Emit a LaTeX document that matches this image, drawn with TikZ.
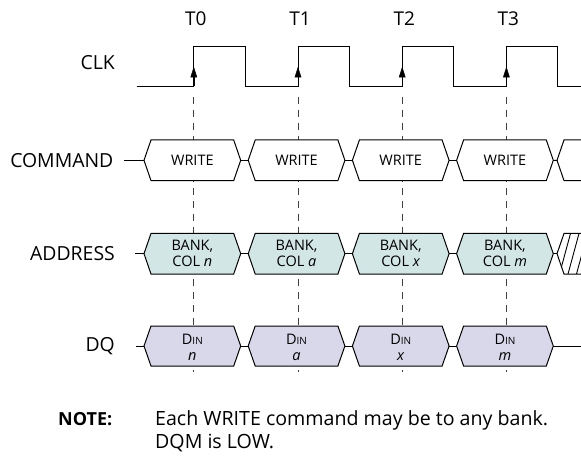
\documentclass[tikz,border=0pt]{standalone}
\usepackage{fontspec}
\setmainfont{Open Sans}
\usepackage{xcolor}
\usepackage{tikz}
\usetikzlibrary{arrows.meta}
\definecolor{addrfill}{RGB}{211,230,230}
\definecolor{dqfill}{RGB}{216,216,234}

\begin{document}
\begin{tikzpicture}[x=1pt,y=-1pt,
  sig/.style={anchor=east, inner sep=0pt, font=\fontsize{19.4}{21}\selectfont},
  tick/.style={inner sep=0pt, font=\fontsize{19}{21}\selectfont},
  bustext/.style={inner sep=0pt, align=center, font=\fontsize{14.5}{16}\selectfont},
  wave/.style={line width=1pt},
  guide/.style={line width=0.9pt, black!75, dash pattern=on 7pt off 6pt},
  cmdbox/.style={line width=1pt, fill=white},
  addrbox/.style={line width=1pt, fill=addrfill},
  dqbox/.style={line width=1pt, fill=dqfill}]
\useasboundingbox (0,0) rectangle (581,457);

% clock edges and labels
\foreach \i in {0,...,3} {
  \node[tick] (t\i) at ({195.8+104.2*\i},19) {T\i};
  \coordinate (edge\i) at ({193.8+104.2*\i},96.7);
  \draw[guide] (edge\i) -- ++(0,275);
}

% CLK
\node[sig] (clk) at (115,63) {CLK};
\draw[wave] (136.5,86.3) \foreach \i in {0,...,3} {
  -- ({193.8+104.2*\i},86.3) -- ++(0,-39.6) -- ++(51.5,0) -- ++(0,39.6)} -- (581,86.3);
\foreach \i in {0,...,3}
  \draw[-{Triangle[length=10.6pt,width=6.6pt]}] ({193.8+104.2*\i},86.3) -- ++(0,-19.6);

% COMMAND
\node[sig] (command) at (113.5,160.3) {COMMAND};
\coordinate (cmdin) at (144,160.3);
\draw[wave] ([xshift=10pt]command.east) -- (cmdin);
\foreach \i in {0,...,3} {
  \draw[cmdbox] ({144+104.2*\i},160.3) -- ++(7,-20.3) -- ++(82.7,0) -- ++(7,20.3)
    -- ++(-7,20.3) -- ++(-82.7,0) -- cycle;
  \node[bustext] (cmd\i) at ({192.35+104.2*\i},160.3) {WRITE};
}
\foreach \i in {0,...,2}
  \draw[wave] ({240.7+104.2*\i},160.3) -- ++(7.5,0);
\draw[wave] (553.3,160.3) -- (557,160.3) -- (564,140) -- (581,140);
\draw[wave] (557,160.3) -- (564,180.6) -- (581,180.6);

% ADDRESS
\node[sig] (address) at (115,253.7) {ADDRESS};
\coordinate (addrin) at (144,253.7);
\draw[wave] ([xshift=20pt]address.east) -- (addrin);
\foreach \i/\col in {0/n,1/a,2/x,3/m} {
  \draw[addrbox] ({144+104.2*\i},253.7) -- ++(7,-20.3) -- ++(82.7,0) -- ++(7,20.3)
    -- ++(-7,20.3) -- ++(-82.7,0) -- cycle;
  \node[bustext] (addr\i) at ({192.35+104.2*\i},253.7) {BANK,\\COL \textit{\col}};
}
\foreach \i in {0,...,2}
  \draw[wave] ({240.7+104.2*\i},253.7) -- ++(7.5,0);
\draw[wave] (553.3,253.7) -- (557,253.7);
\begin{scope}
  \clip (557,253.7) -- (564,233.5) -- (581,233.5) -- (581,274) -- (564,274) -- cycle;
  \foreach \k in {0,...,3}
    \draw[line width=0.9pt] ({551+8.5*\k},274) -- ++(11,-40.5);
\end{scope}
\draw[wave] (581,233.5) -- (564,233.5) -- (557,253.7) -- (564,274) -- (581,274);

% DQ
\node[sig] (dq) at (115,346) {DQ};
\coordinate (dqin) at (144,346);
\draw[wave] ([xshift=21pt]dq.east) -- (dqin);
\foreach \i/\col in {0/n,1/a,2/x,3/m} {
  \draw[dqbox] ({144+104.2*\i},346) -- ++(7,-20) -- ++(82.7,0) -- ++(7,20)
    -- ++(-7,20) -- ++(-82.7,0) -- cycle;
  \node[bustext] (dq\i) at ({192.35+104.2*\i},347) {D{\fontsize{10}{10}\selectfont IN}\\\textit{\col}};
}
\foreach \i in {0,...,2}
  \draw[wave] ({240.7+104.2*\i},346) -- ++(7.5,0);
\draw[wave] (553.3,346) -- (581,346);

% note
\node[anchor=base west, inner sep=0pt, font=\fontsize{18}{20}\selectfont\bfseries] (note) at (58,425.7) {NOTE:};
\node[anchor=base west, inner sep=0pt, align=left, font=\fontsize{19.6}{22.6}\selectfont] (notetext) at (155,448.3)
  {Each WRITE command may be to any bank.\\DQM is LOW.};
\end{tikzpicture}
\end{document}
